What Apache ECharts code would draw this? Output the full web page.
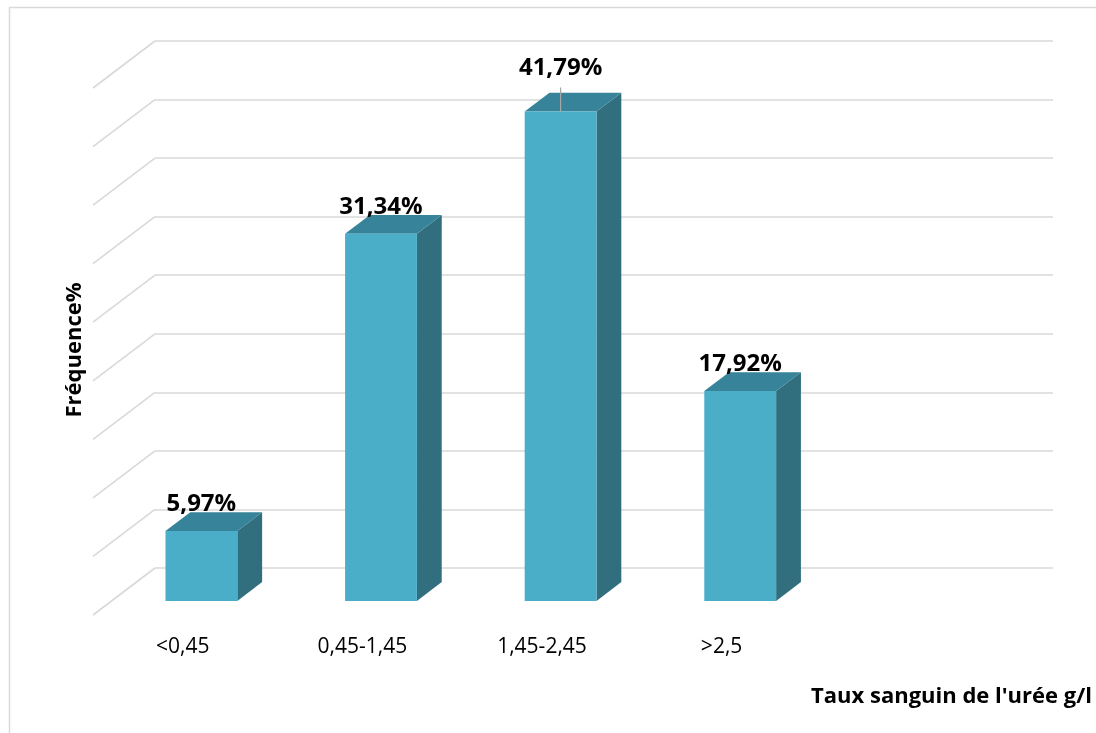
<!DOCTYPE html>
<html>
<head>
<meta charset="utf-8">
<script src="https://cdn.jsdelivr.net/npm/echarts@6/dist/echarts.min.js"></script>
<style>
  html, body { margin: 0; padding: 0; background: #fff; }
  #chart { width: 1096px; height: 733px; }
</style>
</head>
<body>
<div id="chart"></div>
<script>
// Distribution of blood urea levels (g/l)
const categories = ['<0,45', '0,45-1,45', '1,45-2,45', '>2,5'];
const frequencies = [5.97, 31.34, 41.79, 17.92];
const yTicks = [0, 5, 10, 15, 20, 25, 30, 35, 40, 45];

const FONT = '"Open Sans", "Noto Sans", sans-serif';
const GRID_COLOR = '#d9d9d9';

// 3D projection: full floor depth as a screen offset (back wall -> front edge)
const DEPTH_X = -62, DEPTH_Y = 47;
const BAR_FRONT = 0.70;   // depth fraction of the bar front faces
const BAR_BACK = 0.30;    // depth fraction of the bar back faces
const BAR_WIDTH = 0.4;    // share of the category band
const LIFTED = 2;         // label moved up with a leader line

const fmt = v => v.toFixed(2).replace('.', ',') + '%';

function renderBar(params, api) {
  const i = api.value(0);
  const v = api.value(1);
  const back = api.coord([i, v]);
  const back0 = api.coord([i, 0]);
  const band = api.size([1, 0])[0];
  const w = band * BAR_WIDTH;

  const fx = back[0] + DEPTH_X * BAR_FRONT;
  const fyTop = back[1] + DEPTH_Y * BAR_FRONT;
  const fyBot = back0[1] + DEPTH_Y * BAR_FRONT;
  const dx = DEPTH_X * (BAR_BACK - BAR_FRONT);
  const dy = DEPTH_Y * (BAR_BACK - BAR_FRONT);
  const x0 = fx - w / 2, x1 = fx + w / 2;

  const children = [
    { type: 'polygon', shape: { points: [[x1, fyTop], [x1 + dx, fyTop + dy], [x1 + dx, fyBot + dy], [x1, fyBot]] },
      style: { fill: '#316f7e' } },
    { type: 'polygon', shape: { points: [[x0, fyTop], [x1, fyTop], [x1 + dx, fyTop + dy], [x0 + dx, fyTop + dy]] },
      style: { fill: '#37849a' } },
    { type: 'rect', shape: { x: x0, y: fyTop, width: w, height: fyBot - fyTop },
      style: { fill: '#4aaec8' } }
  ];

  const lift = params.dataIndex === LIFTED ? 43 : 27;
  if (params.dataIndex === LIFTED) {
    children.push({ type: 'line', shape: { x1: fx, y1: fyTop - 24, x2: fx, y2: fyTop },
      style: { stroke: '#a6a6a6', lineWidth: 1.2 } });
  }
  children.push({ type: 'text', x: fx, y: fyTop - lift,
    style: { text: fmt(v), fill: '#000', font: 'bold 24px ' + FONT, align: 'center', verticalAlign: 'middle' } });

  // category label at the front floor edge
  children.push({ type: 'text', x: back[0] + DEPTH_X, y: back0[1] + DEPTH_Y + 32,
    style: { text: categories[i], fill: '#000', font: '21px ' + FONT, align: 'center', verticalAlign: 'middle' } });

  return { type: 'group', children };
}

function renderSideWall(params, api) {
  const y = api.coord([0, api.value(0)])[1];
  const x = params.coordSys.x;
  return { type: 'line', shape: { x1: x, y1: y, x2: x + DEPTH_X, y2: y + DEPTH_Y },
    style: { stroke: GRID_COLOR, lineWidth: 1.6 } };
}

const chart = echarts.init(document.getElementById('chart'), null, { renderer: 'canvas' });
chart.setOption({
  animation: false,
  backgroundColor: '#fff',
  grid: { left: 155, right: 43, top: 41, bottom: 165 },
  xAxis: {
    type: 'category',
    data: categories.concat(['']),
    boundaryGap: true,
    axisLine: { show: false }, axisTick: { show: false }, axisLabel: { show: false }
  },
  yAxis: {
    type: 'value', min: 0, max: 45, interval: 5,
    axisLine: { show: false }, axisTick: { show: false }, axisLabel: { show: false },
    splitLine: { lineStyle: { color: GRID_COLOR, width: 1.6 } }
  },
  graphic: [
    { type: 'rect', left: 7, top: 5, shape: { width: 1200, height: 800 },
      style: { fill: 'none', stroke: GRID_COLOR, lineWidth: 1.5 }, silent: true },
    { type: 'text', x: 75, y: 350, rotation: Math.PI / 2,
      style: { text: 'Fréquence%', font: 'bold 22px ' + FONT, fill: '#000', align: 'center', verticalAlign: 'middle' } },
    { type: 'text', x: 1092, y: 697,
      style: { text: "Taux sanguin de l'urée g/l", font: 'bold 22px ' + FONT, fill: '#000', align: 'right', verticalAlign: 'middle' } }
  ],
  series: [
    { type: 'custom', renderItem: renderSideWall, data: yTicks.map(t => [t]), silent: true, z: 1 },
    { type: 'custom', renderItem: renderBar, data: frequencies.map((v, i) => [i, v]), z: 2 }
  ]
});
</script>
</body>
</html>
